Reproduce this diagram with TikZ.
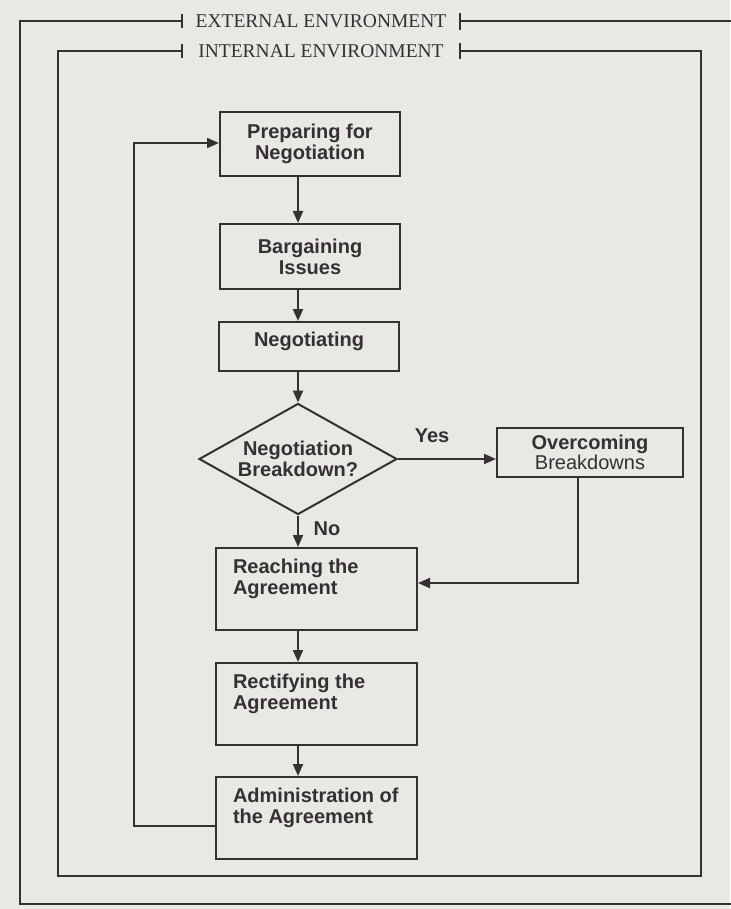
\documentclass[tikz,border=0pt]{standalone}
\usepackage{fontspec}
\setmainfont{Liberation Sans}
\newfontfamily\envfont{Liberation Serif}
\usetikzlibrary{shapes.geometric,arrows.meta}
\definecolor{ink}{HTML}{363131}
\definecolor{paper}{HTML}{E8E8E5}
\begin{document}
\begin{tikzpicture}[x=1pt,y=-1pt,
  every node/.style={text=ink},
  ln/.style={draw=ink,line width=2pt},
  arr/.style={ln,-{Triangle[length=12pt,width=10pt]}},
  bf/.style={font=\bfseries\fontsize{20}{21}\selectfont},
  cbox/.style={ln,rectangle,inner sep=0pt,minimum width=180pt,minimum height=#1,align=center,bf},
  cbox/.default=65pt,
  lbox/.style={ln,rectangle,inner sep=0pt,minimum width=201pt,minimum height=82pt,bf},
  env/.style={inner sep=0pt,minimum width=278pt,font=\envfont\fontsize{19.5}{21}\selectfont},
  lab/.style={bf}]
\fill[paper] (0,0) rectangle (730,909);
\useasboundingbox (0,0) rectangle (730,909);

% environment labels
\node[env] (ext) at (321,21) {EXTERNAL ENVIRONMENT};
\node[env] (int) at (321,51) {INTERNAL ENVIRONMENT};

% ticks
\draw[ln] ([yshift=-7pt]ext.west) -- ([yshift=7pt]ext.west);
\draw[ln] ([yshift=-9pt]ext.east) -- ([yshift=8pt]ext.east);
\draw[ln] ([yshift=-7pt]int.west) -- ([yshift=7pt]int.west);
\draw[ln] ([yshift=-8pt]int.east) -- ([yshift=8pt]int.east);

% frames
\coordinate (oBL) at (20,904);
\coordinate (oR) at (735,904);
\coordinate (oTR) at (735,21);
\draw[ln] (ext.west) -| (oBL) -- (oR);
\draw[ln] (ext.east) -- (oTR);
\coordinate (iBL) at (58,876);
\coordinate (iTR) at (701,51);
\draw[ln] (int.west) -| (iBL) -| (iTR) -- (int.east);

% boxes
\node[cbox=64pt] (prep) at (310,144) {Preparing for\\Negotiation};
\node[cbox=65pt] (barg) at (310,256.5) {Bargaining\\Issues};
\node[cbox=49pt] (nego) at (309,346.5) {\raisebox{0pt}[0pt][0pt]{Negotiating}};
\node[ln,diamond,aspect=1.78,inner sep=0pt,minimum width=198pt,minimum height=111pt,align=center,bf] (diam) at (298,459) {Negotiation\\Breakdown?};
\node[ln,rectangle,minimum width=186pt,minimum height=49pt,inner sep=0pt,align=center,font=\fontsize{20}{18}\selectfont] (over) at (590,452.5) {{\bfseries Overcoming}\\Breakdowns};
\node[lbox] (reach) at (316.5,589) {\hspace*{17pt}\parbox[c][82pt][t]{184pt}{\raggedright\rule{0pt}{25pt}Reaching the\\Agreement}};
\node[lbox] (rect) at (316.5,704) {\hspace*{17pt}\parbox[c][82pt][t]{184pt}{\raggedright\rule{0pt}{25pt}Rectifying the\\Agreement}};
\node[lbox] (admin) at (316.5,818) {\hspace*{17pt}\parbox[c][82pt][t]{184pt}{\raggedright\rule{0pt}{25pt}Administration of\\the Agreement}};

% labels
\node[lab] (yes) at (432,436) {Yes};
\node[lab] (no) at (327,529) {No};

% connectors
\draw[arr] (prep.south -| diam.north) -- (barg.north -| diam.north);
\draw[arr] (barg.south -| diam.north) -- (nego.north -| diam.north);
\draw[arr] (nego.south -| diam.north) -- (diam.north);
\draw[arr] (diam.east) -- (over.west |- diam.east);
\draw[arr] (diam.south) -- (reach.north -| diam.south);
\draw[arr] (reach.south -| diam.south) -- (rect.north -| diam.south);
\draw[arr] (rect.south -| diam.south) -- (admin.north -| diam.south);
\coordinate (ret) at (578,583);
\draw[arr] (over.south -| ret) |- (ret -| reach.east);
\coordinate (fbB) at (134,826);
\coordinate (fbT) at (134,143);
\draw[arr] (fbB -| admin.west) -- (fbB) -- (fbT) -- (fbT -| prep.west);
\end{tikzpicture}
\end{document}
